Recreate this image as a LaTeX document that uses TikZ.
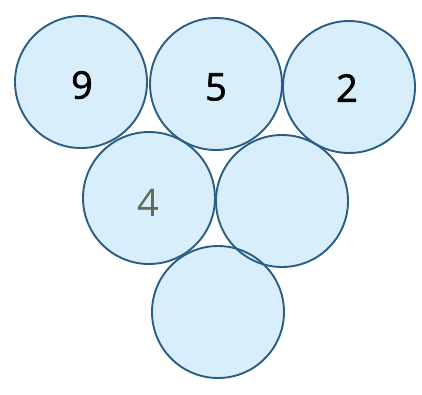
\documentclass[tikz,border=0pt]{standalone}
\usepackage{fontspec}
\setmainfont{Open Sans}[BoldFont=Open Sans, BoldFeatures={FakeBold=1.6}]
\definecolor{ballfill}{HTML}{D8EEFA}
\definecolor{ballline}{HTML}{2A5E86}
\definecolor{greytxt}{HTML}{5E6B55}
\tikzset{
  ball/.style={circle, minimum size=132pt, inner sep=0pt, fill=ballfill},
  ring/.style={circle, minimum size=132pt, inner sep=0pt, draw=ballline, line width=1.9pt},
  num/.style={font=\fontsize{38}{40}\selectfont\bfseries}
}
\begin{document}
\begin{tikzpicture}[x=1pt,y=-1pt]
\useasboundingbox (0,0) rectangle (422,394);
\fill[white] (0,0) rectangle (422,394);
% fills
\node[ball] (f1) at (81,82) {};
\node[ball] (f2) at (216,84) {};
\node[ball] (f3) at (349,87) {};
\node[ball] (f4) at (149,198) {};
\node[ball] (f5) at (282,201) {};
\node[ball] (f6) at (218,312) {};
% outlines
\node[ring] (c1) at (81,82) {};
\node[ring] (c2) at (216,84) {};
\node[ring] (c3) at (349,87) {};
\node[ring] (c4) at (149,198) {};
\node[ring] (c5) at (282,201) {};
\node[ring] (c6) at (218,312) {};
% numbers
\node[num] (t1) at (82,85) {9};
\node[num] (t2) at (216,87) {5};
\node[num] (t3) at (347,88) {2};
\node[num, font=\fontsize{38}{40}\selectfont, text=greytxt] (t4) at (148,203) {4};
\end{tikzpicture}
\end{document}
